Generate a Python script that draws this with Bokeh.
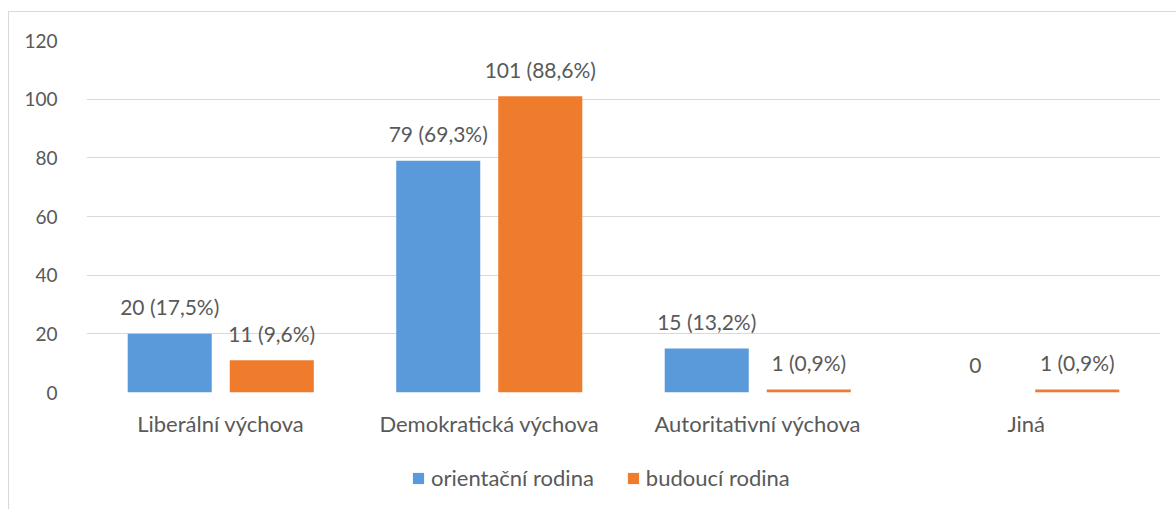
from bokeh.plotting import figure
from bokeh.models import ColumnDataSource, Legend, LegendItem, LabelSet
from bokeh.layouts import column
from bokeh.transform import dodge
from bokeh.core.properties import value
from bokeh.embed import file_html
from bokeh.resources import INLINE

categories = ["Liberální výchova", "Demokratická výchova", "Autoritativní výchova", "Jiná"]
orientacni = [20, 79, 15, 0]
budouci = [11, 101, 1, 1]
orientacni_labels = ["20 (17,5%)", "79 (69,3%)", "15 (13,2%)", "0"]
budouci_labels = ["11 (9,6%)", "101 (88,6%)", "1 (0,9%)", "1 (0,9%)"]
series_names = ["orientační rodina", "budoucí rodina"]
y_ticks = [0, 20, 40, 60, 80, 100, 120]

FONT = "Lato"
TXT = "#595959"
BLUE = "#5a9ada"
ORANGE = "#ef7c2c"

src = ColumnDataSource(dict(cat=categories, a=orientacni, b=budouci,
                            la=orientacni_labels, lb=budouci_labels))

p = figure(x_range=categories, y_range=(0, 120), width=1168, height=446,
           output_backend="svg", toolbar_location=None,
           min_border_left=77, min_border_top=28, min_border_right=17, min_border_bottom=66)

W = 0.313
OFF = 0.19
p.vbar(x=dodge("cat", -OFF, range=p.x_range), top="a", width=W, source=src,
       fill_color=BLUE, line_color=None)
p.vbar(x=dodge("cat", OFF, range=p.x_range), top="b", width=W, source=src,
       fill_color=ORANGE, line_color=None)

for col, lab, off in (("a", "la", -OFF), ("b", "lb", OFF)):
    ls = LabelSet(x=dodge("cat", off, range=p.x_range), y=col, text=lab, source=src,
                  text_align="center", text_baseline="middle", y_offset=27,
                  text_font=value(FONT), text_font_size="21px", text_color=TXT)
    p.add_layout(ls)

p.yaxis.ticker = y_ticks
for ax in (p.xaxis[0], p.yaxis[0]):
    ax.axis_line_color = None
    ax.major_tick_line_color = None
    ax.minor_tick_line_color = None
    ax.major_label_text_font = FONT
    ax.major_label_text_color = TXT
p.xaxis.major_label_text_font_size = "22px"
p.yaxis.major_label_text_font_size = "19px"
p.xaxis.major_label_standoff = 11
p.yaxis.major_label_standoff = 23

p.xgrid.grid_line_color = None
p.ygrid.grid_line_color = "#d9d9d9"
p.ygrid.grid_line_width = 1
p.outline_line_color = None

# legend strip (same categories, y window far above the data so no bar shows)
lp = figure(width=1168, height=52, output_backend="svg", toolbar_location=None,
            x_range=p.x_range, y_range=(1000, 1001),
            x_axis_location=None, y_axis_location=None, min_border=0)
lp.grid.visible = False
lp.outline_line_color = None
lra = lp.vbar(x="cat", top="a", width=W, source=src, fill_color=BLUE, line_color=None)
lrb = lp.vbar(x="cat", top="b", width=W, source=src, fill_color=ORANGE, line_color=None)
legend = Legend(items=[LegendItem(label=series_names[0], renderers=[lra]),
                       LegendItem(label=series_names[1], renderers=[lrb])],
                orientation="horizontal", location=(325, 19),
                border_line_color=None, background_fill_alpha=0,
                label_text_font=FONT, label_text_font_size="22px", label_text_color=TXT,
                glyph_width=14, glyph_height=14, label_standoff=6, spacing=32,
                padding=0, margin=0)
lp.add_layout(legend, "center")

layout = column(p, lp, spacing=0)
layout.styles = {"border-top": "1px solid #d9d9d9", "border-left": "1px solid #d9d9d9",
                 "margin-top": "11px", "margin-left": "8px"}

open("out.html", "w").write(file_html(layout, INLINE))
